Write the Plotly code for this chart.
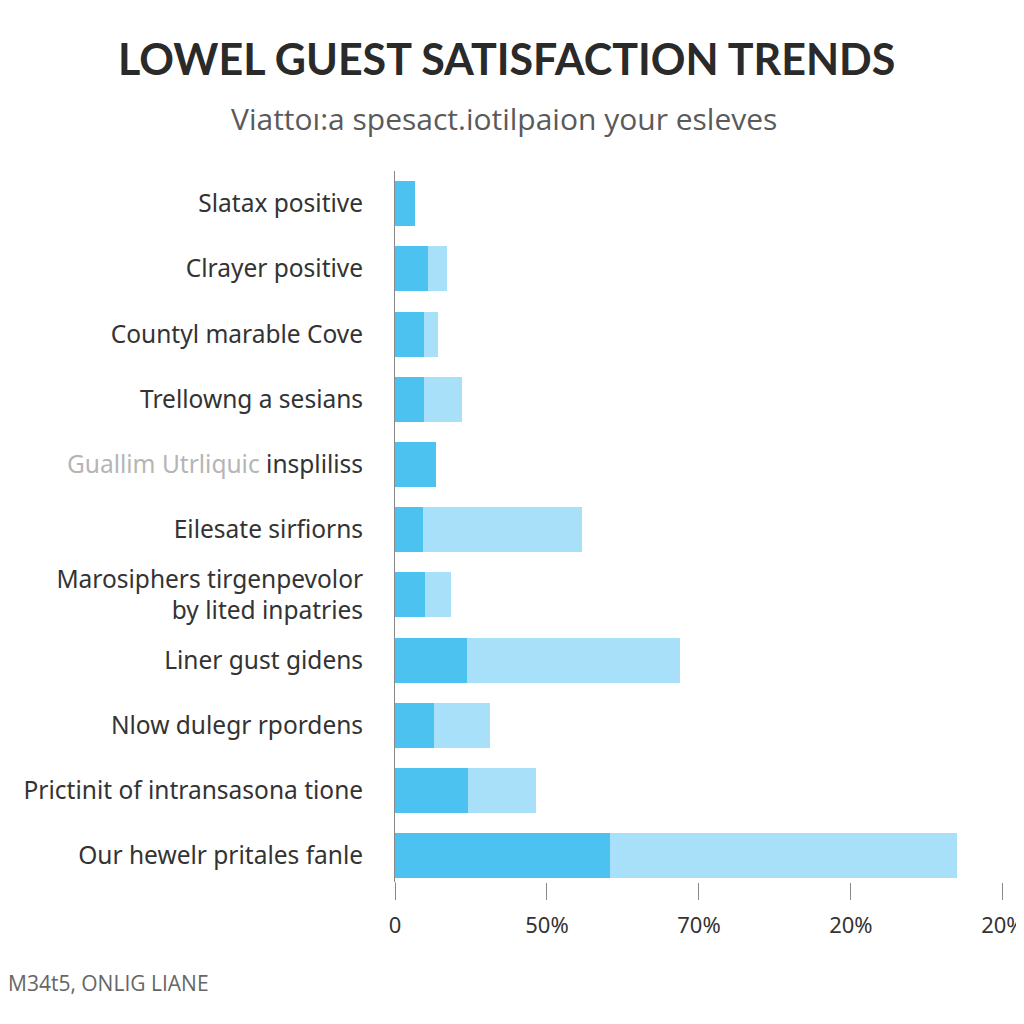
import plotly.graph_objects as go

categories = [
    "Slatax positive",
    "Clrayer positive",
    "Countyl marable Cove",
    "Trellowng a sesians",
    "<span style='color:#b5b5b5'>Guallim Utrliquic</span> inspliliss",
    "Eilesate sirfiorns",
    "Marosiphers tirgenpevolor<br>by lited inpatries",
    "Liner gust gidens",
    "Nlow dulegr rpordens",
    "Prictinit of intransasona tione",
    "Our hewelr pritales fanle",
]
base_values = [6.5, 10.8, 9.5, 9.5, 13.4, 9.1, 9.8, 23.8, 12.7, 24.1, 70.8]
extra_values = [0, 6.2, 4.6, 12.7, 0, 52.5, 8.5, 70.1, 18.6, 22.2, 114.2]
tick_vals = [0, 50, 100, 150, 200]
tick_text = ["0", "50%", "70%", "20%", "20%"]

fig = go.Figure()
fig.add_trace(go.Bar(y=categories, x=base_values, orientation="h",
                     marker=dict(color="#4CC2F1", line=dict(width=0)),
                     width=0.69, name="base"))
fig.add_trace(go.Bar(y=categories, x=extra_values, orientation="h",
                     marker=dict(color="#A8E0FA", line=dict(width=0)),
                     width=0.69, name="extra"))

fig.update_layout(
    barmode="stack",
    width=1024, height=1024,
    paper_bgcolor="white", plot_bgcolor="white",
    margin=dict(l=387, r=8, t=163, b=150),
    showlegend=False,
    font=dict(family="Noto Sans, Open Sans, sans-serif", color="#333333"),
    title=dict(text="<b>LOWEL GUEST SATISFACTION TRENDS</b>",
               x=0.487, xanchor="center", y=0.949, yanchor="middle",
               font=dict(family="Lato, Open Sans, sans-serif", size=43, color="#2a2a2a")),
    xaxis=dict(range=[0, 203], tickvals=tick_vals, ticktext=tick_text,
               showgrid=False, zeroline=False, showline=False,
               ticks="outside", ticklen=17, tickcolor="#888888", tickwidth=1,
               tickfont=dict(size=22, color="#333333", family="Noto Sans, sans-serif"),
               ticklabelstandoff=7, ticklabeloverflow="allow"),
    yaxis=dict(type="category", range=[10.4, -0.5],
               showgrid=False, zeroline=False,
               showline=True, linecolor="#888888", linewidth=1,
               ticks="", tickfont=dict(size=24.5, color="#333333"),
               ticklabelstandoff=26),
)

fig.add_annotation(text="Viattoı:a spesact.iotilpaion your esleves",
                   xref="paper", yref="paper", x=0.1765, y=1.0745,
                   xanchor="center", yanchor="middle", showarrow=False,
                   font=dict(size=30, color="#5a5a5a", family="Open Sans, sans-serif"))
fig.add_annotation(text="M34t5, ONLIG LIANE",
                   xref="paper", yref="paper", x=-0.63, y=-0.142,
                   xanchor="left", yanchor="middle", showarrow=False,
                   font=dict(size=21, color="#666666", family="Open Sans, sans-serif"))

fig.add_shape(type="line", xref="x", yref="paper", x0=0, x1=0, y0=0, y1=-0.024,
              line=dict(color="#888888", width=1))

fig.write_html("out.html")
